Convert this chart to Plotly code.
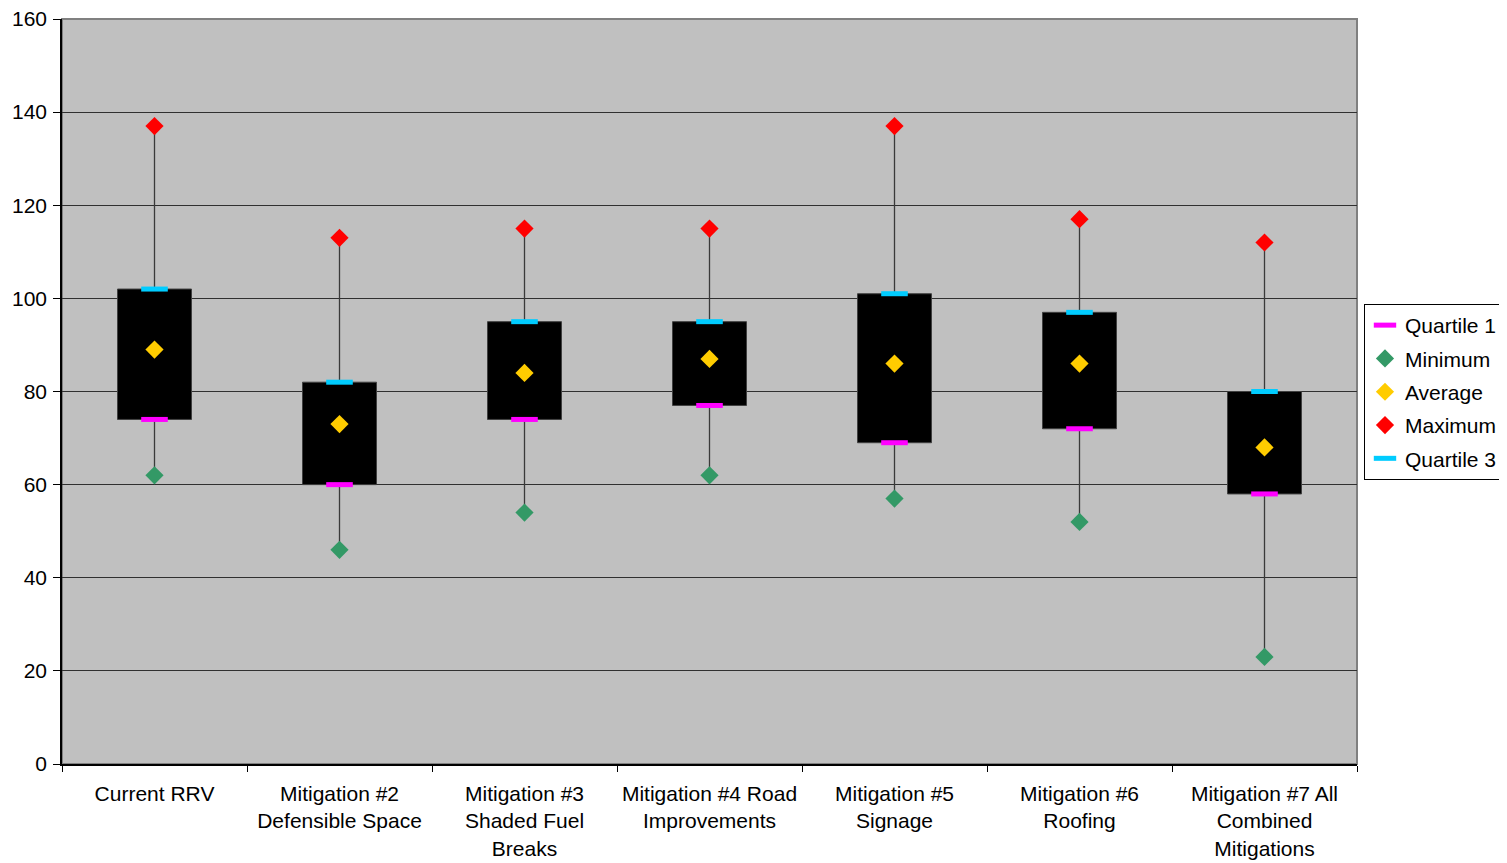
import plotly.graph_objects as go

categories = ["Current RRV", "Mitigation #2<br>Defensible Space", "Mitigation #3<br>Shaded Fuel<br>Breaks",
              "Mitigation #4 Road<br>Improvements", "Mitigation #5<br>Signage", "Mitigation #6<br>Roofing",
              "Mitigation #7 All<br>Combined<br>Mitigations"]
quartile1 = [74, 60, 74, 77, 69, 72, 58]
minimum = [62, 46, 54, 62, 57, 52, 23]
average = [89, 73, 84, 87, 86, 86, 68]
maximum = [137, 113, 115, 115, 137, 117, 112]
quartile3 = [102, 82, 95, 95, 101, 97, 80]

FONT = "Liberation Sans, Arial, sans-serif"

fig = go.Figure()

# whiskers (min->Q1 and Q3->max)
wx, wy = [], []
for c, mn, q1, q3, mx in zip(categories, minimum, quartile1, quartile3, maximum):
    wx += [c, c, None, c, c, None]
    wy += [mn, q1, None, q3, mx, None]
fig.add_trace(go.Scatter(x=wx, y=wy, mode="lines", line=dict(color="#3a3a3a", width=1.3),
                         showlegend=False, hoverinfo="skip"))

# boxes
fig.add_trace(go.Bar(x=categories, y=[b - a for a, b in zip(quartile1, quartile3)], base=quartile1,
                     width=0.4, marker=dict(color="black", line=dict(color="#404040", width=1)),
                     showlegend=False, hoverinfo="skip"))

def dash_trace(name, vals, color, group):
    return go.Scatter(x=categories, y=vals, mode="markers", name=name, legendgroup=group,
                      marker=dict(symbol="line-ew", size=19, color=color,
                                  line=dict(color=color, width=5)))

def diamond_trace(name, vals, color, group):
    return go.Scatter(x=categories, y=vals, mode="markers", name=name, legendgroup=group,
                      marker=dict(symbol="diamond", size=14, color=color, line=dict(width=0)))

fig.add_trace(dash_trace("Quartile 1", quartile1, "#FF00FF", "g1"))
fig.add_trace(diamond_trace("Minimum", minimum, "#339966", "g2"))
fig.add_trace(diamond_trace("Average", average, "#FFCC00", "g3"))
fig.add_trace(diamond_trace("Maximum", maximum, "#FF0000", "g4"))
fig.add_trace(dash_trace("Quartile 3", quartile3, "#00CCFF", "g5"))

# page has an 8px body margin: figure is 1499x855, drawn at (8, 8)
fig.update_layout(
    width=1499, height=855,
    margin=dict(l=54, r=150, t=11, b=99, autoexpand=False),
    paper_bgcolor="white", plot_bgcolor="#C0C0C0",
    font=dict(family=FONT, size=21, color="black"),
    showlegend=True,
    legend=dict(xref="container", yref="container", x=0.9046, y=0.5509,
                xanchor="left", yanchor="middle",
                bordercolor="black", borderwidth=1, bgcolor="white",
                font=dict(size=21), traceorder="grouped", tracegroupgap=3,
                itemwidth=30),
    xaxis=dict(type="category", range=[-0.5, 6.5], tickson="boundaries",
               ticks="outside", ticklen=6, tickcolor="black", showgrid=False,
               showline=True, linecolor="black", linewidth=1.5, automargin=False,
               tickfont=dict(size=21), ticklabelstandoff=10, ticklabeloverflow="allow"),
    yaxis=dict(range=[0, 160], dtick=20, ticks="outside", ticklen=7, tickcolor="black",
               showgrid=True, gridcolor="#303030", gridwidth=1, automargin=False,
               showline=True, linecolor="black", linewidth=1.5,
               tickfont=dict(size=21), ticklabelstandoff=2, zeroline=False,
               ticklabeloverflow="allow"),
    bargap=0.6,
    shapes=[dict(type="rect", xref="paper", yref="paper", x0=0, y0=0, x1=1, y1=1,
                 line=dict(color="#808080", width=2), layer="below")],
)

fig.write_html("out.html")
